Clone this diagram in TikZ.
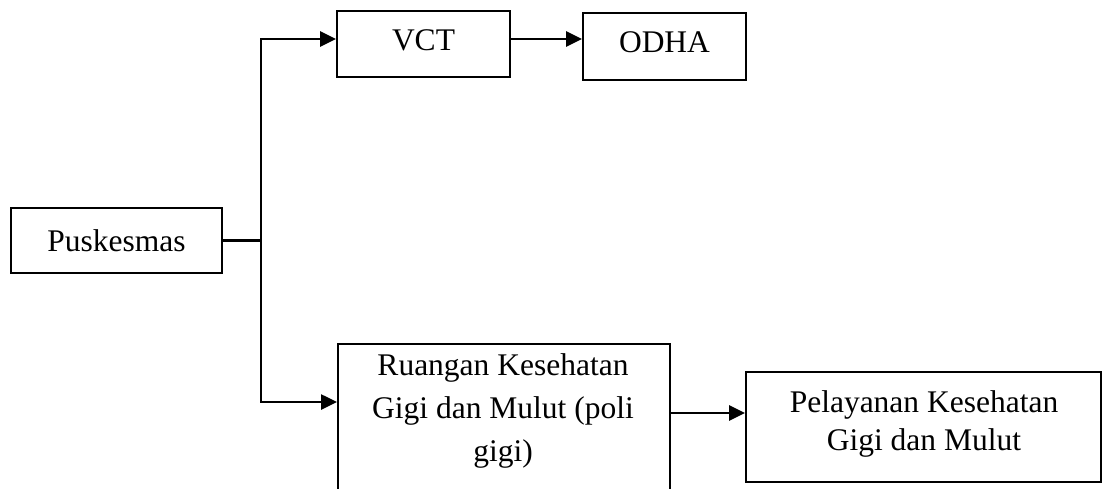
\documentclass[tikz,border=0pt]{standalone}
\usepackage{fontspec}
\setmainfont{Liberation Serif}
\usetikzlibrary{arrows.meta}
\begin{document}
\begin{tikzpicture}[x=1pt,y=-1pt,
  box/.style={draw=black,line width=1.9pt,rectangle,inner sep=0pt,font=\fontsize{31.5}{38}\selectfont},
  txt/.style={inner sep=0pt,align=center,font=\fontsize{31.5}{38}\selectfont},
  conn/.style={line width=2.6pt},
  arr/.style={line width=2.6pt,-{Triangle[length=16pt,width=15pt]}}]
\clip (0,0) rectangle (1105,488);
\fill[white] (0,0) rectangle (1105,488);
\node[box,minimum width=211pt,minimum height=65pt] (pus) at (116.5,240.5) {Puskesmas};
\node[box,minimum width=173pt,minimum height=66pt,text depth=7pt] (vct) at (423.5,44) {VCT};
\node[box,minimum width=163pt,minimum height=67pt,text depth=8pt] (odha) at (664.5,46.5) {ODHA};
\node[box,minimum width=332pt,minimum height=170pt,anchor=north west] (ruang) at (337,343) {};
\node[txt,anchor=base,font=\fontsize{31.5}{43}\selectfont] (ruangtxt) at (503,461) {Ruangan Kesehatan\\Gigi dan Mulut (poli\\gigi)};
\node[box,minimum width=355pt,minimum height=110pt] (pel) at (923.5,427) {};
\node[txt,anchor=base] (peltxt) at (924,450) {Pelayanan Kesehatan\\Gigi dan Mulut};
\coordinate (jm) at (261,240.5);
\coordinate (jt) at (261,39);
\coordinate (jb) at (261,402);
\draw[conn] (pus.east) -- (jm);
\draw[conn,line cap=rect] (jt) -- (jb);
\draw[arr] (jt) -- (vct.west |- jt);
\draw[arr] (jb) -- (ruang.west |- jb);
\draw[arr] (vct.east |- jt) -- (odha.west |- jt);
\draw[arr] (ruang.east |- 0,413) -- (pel.west |- 0,413);
\end{tikzpicture}
\end{document}
